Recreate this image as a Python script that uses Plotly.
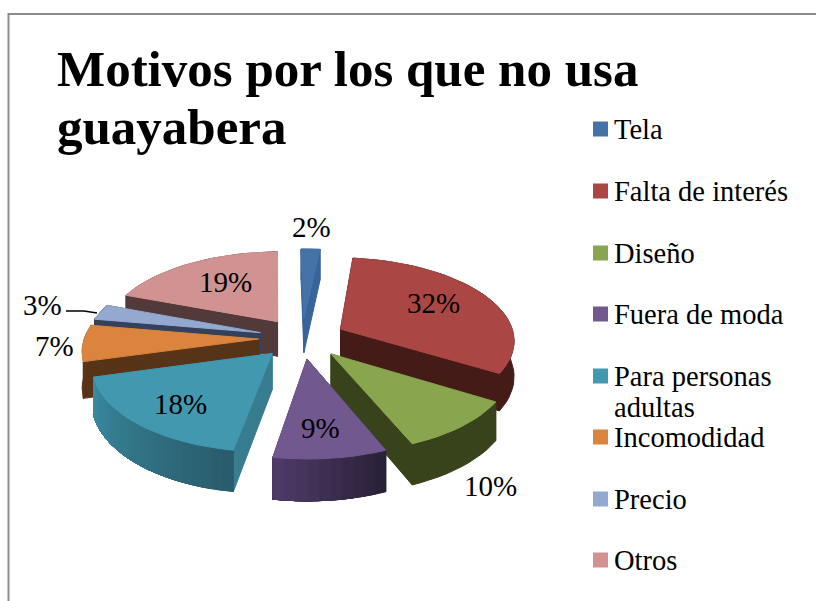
import math
import plotly.graph_objects as go

# ---- data -----------------------------------------------------------------
categories = ["Tela", "Falta de interés", "Diseño", "Fuera de moda",
              "Para personas<br>adultas", "Incomodidad", "Precio", "Otros"]
values = [2, 32, 10, 9, 18, 7, 3, 19]
title_lines = ["Motivos por los que no usa", "guayabera"]

# ---- style ----------------------------------------------------------------
top_colors = ["#4573A7", "#AA4643", "#89A54E", "#71588F", "#4198AF", "#DB843D", "#93A9CF", "#D19392"]
side_colors = ["#37649A", "#451B18", "#38421B", "#3A2C4B", "#387C8F", "#573417", "#33415C", "#533A3A"]
rim_start = ["#37649A", "#451B18", "#38421B", "#292138", "#295C6C", "#5A3618", "#33415C", "#533A3A"]
rim_end = ["#37649A", "#451B18", "#38421B", "#4D3A66", "#3A8AA0", "#5A3618", "#33415C", "#533A3A"]
paint_order = [7, 0, 6, 1, 5, 2, 4, 3]
label_xy = [(311, 227), (433, 303), (490, 486), (320, 428), (180, 404), (54, 346), (42, 305), (225, 282)]
legend_y = [129, 191, 253, 314, 376, 437, 499, 560]
title_y = [69, 127]

# projection of the tilted pie (pixels)
CX, CY = 302, 338
RX, RY = 174, 82.1
PERSP = 0.1226
EXPLODE = 0.25
DEPTH = 35.5
ROTATION = -1.0
FONT = "Liberation Serif"


def project(X, Z, h=0.0):
    s = 1 / (1 - PERSP * Z)
    return CX + RX * X * s, CY + (RY * Z + h) * s


def poly(fig, pts, color):
    xs = [p[0] for p in pts] + [pts[0][0]]
    ys = [p[1] for p in pts] + [pts[0][1]]
    fig.add_trace(go.Scatter(x=xs, y=ys, mode="lines", fill="toself", fillcolor=color,
                             line=dict(color=color, width=1), hoverinfo="skip", showlegend=False))


def mix(a, b, t):
    ca = [int(a[i:i + 2], 16) for i in (1, 3, 5)]
    cb = [int(b[i:i + 2], 16) for i in (1, 3, 5)]
    return "#%02x%02x%02x" % tuple(round(x + (y - x) * t) for x, y in zip(ca, cb))


fig = go.Figure()

total = sum(values)
edges = [ROTATION]
for v in values:
    edges.append(edges[-1] + 360.0 * v / total)

for i in paint_order:
    a0, a1 = math.radians(edges[i]), math.radians(edges[i + 1])
    mid = (a0 + a1) / 2
    ox, oz = EXPLODE * math.sin(mid), -EXPLODE * math.cos(mid)
    n = max(2, int((edges[i + 1] - edges[i]) / 3))
    angles = [a0 + (a1 - a0) * k / n for k in range(n + 1)]
    rim = [(ox + math.sin(t), oz - math.cos(t)) for t in angles]

    # radial cut walls
    for (X, Z) in (rim[0], rim[-1]):
        poly(fig, [project(ox, oz), project(X, Z), project(X, Z, DEPTH), project(ox, oz, DEPTH)], side_colors[i])
    # outer curved wall: one piece when flat, overlapping bands when shaded
    if rim_start[i] == rim_end[i]:
        poly(fig, [project(X, Z) for X, Z in rim] + [project(X, Z, DEPTH) for X, Z in reversed(rim)], rim_start[i])
    else:
        for k in range(n):
            seg = rim[k:]
            pts = [project(X, Z) for X, Z in seg] + [project(X, Z, DEPTH) for X, Z in reversed(seg)]
            poly(fig, pts, mix(rim_start[i], rim_end[i], k / max(1, n - 1)))
    # top face
    poly(fig, [project(ox, oz)] + [project(X, Z) for X, Z in rim], top_colors[i])

# leader line of the 3% label
fig.add_trace(go.Scatter(x=[66, 84, 97], y=[311, 311, 313], mode="lines",
                         line=dict(color="#000000", width=1.5), hoverinfo="skip", showlegend=False))

# legend swatches
fig.add_trace(go.Scatter(x=[600.5] * len(legend_y), y=legend_y, mode="markers",
                         marker=dict(symbol="square", size=15, color=top_colors),
                         hoverinfo="skip", showlegend=False))

annotations = []
for v, (x, y) in zip(values, label_xy):
    annotations.append(dict(x=x, y=y, xref="x", yref="y", text=f"{v}%", showarrow=False,
                            font=dict(family=FONT, size=29, color="#000000")))
for c, y in zip(categories, legend_y):
    for j, part in enumerate(c.split("<br>")):
        annotations.append(dict(x=612, y=y + 31 * j, xref="x", yref="y", text=part, showarrow=False,
                                xanchor="left", yanchor="middle", align="left",
                                font=dict(family=FONT, size=28.5, color="#000000")))
for line, y in zip(title_lines, title_y):
    annotations.append(dict(x=55, y=y, xref="x", yref="y", text=line, showarrow=False,
                            xanchor="left", yanchor="middle", align="left",
                            font=dict(family=FONT, size=51, color="#000000", weight="bold")))

fig.update_layout(
    width=816, height=601, margin=dict(l=0, r=0, t=0, b=0, pad=0),
    paper_bgcolor="#FFFFFF", plot_bgcolor="#FFFFFF", showlegend=False,
    xaxis=dict(range=[0, 816], visible=False, fixedrange=True),
    yaxis=dict(range=[601, 0], visible=False, fixedrange=True),
    annotations=annotations,
    shapes=[
        dict(type="line", xref="x", yref="y", x0=8, x1=816, y0=14, y1=14, line=dict(color="#8C8C8C", width=2)),
        dict(type="line", xref="x", yref="y", x0=8.5, x1=8.5, y0=13, y1=601, line=dict(color="#8C8C8C", width=2)),
    ],
)
fig.write_html("out.html", config=dict(displayModeBar=False),
               post_script="document.body.style.margin='0';document.documentElement.style.overflow='hidden';")
